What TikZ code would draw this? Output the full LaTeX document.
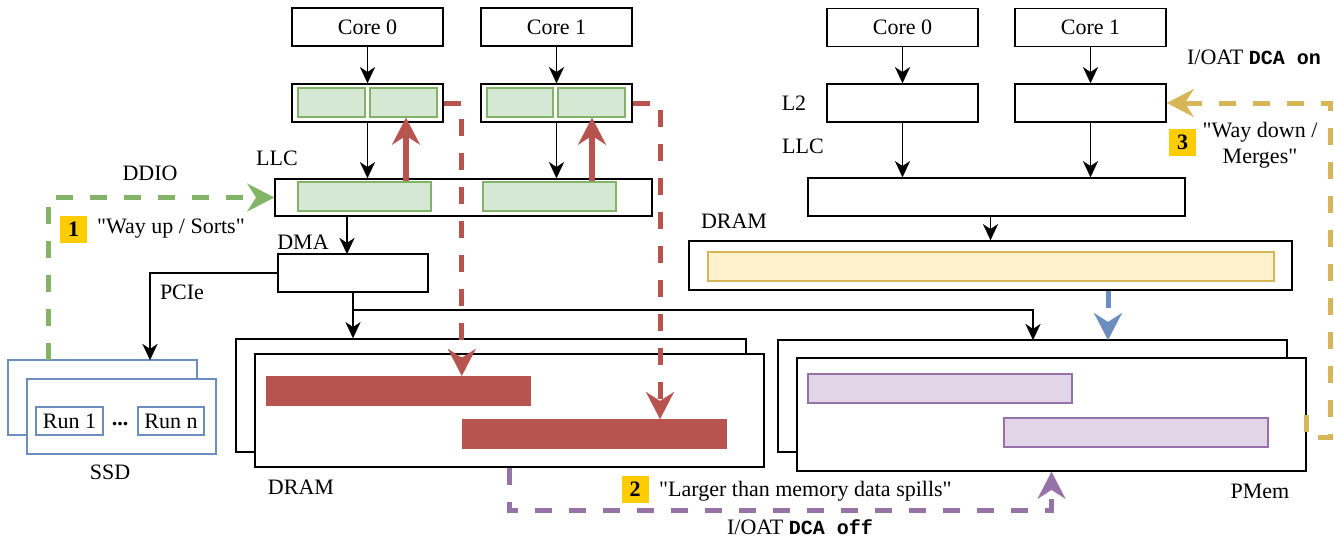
\documentclass[tikz,border=0pt]{standalone}
\usepackage{fontspec}
\setmainfont{Liberation Serif}[Ligatures=TeXOff]
\newfontfamily\codefont{Liberation Mono}
\usetikzlibrary{arrows.meta,calc}

\definecolor{grnFill}{HTML}{D5E8D4}
\definecolor{grnLine}{HTML}{82B366}
\definecolor{redLine}{HTML}{B85450}
\definecolor{ylwFill}{HTML}{FFF2CC}
\definecolor{ylwLine}{HTML}{D6B656}
\definecolor{prpFill}{HTML}{E1D5E7}
\definecolor{prpLine}{HTML}{9673A6}
\definecolor{bluLine}{HTML}{6C8EBF}
\definecolor{tagGold}{HTML}{FFCC00}

\newcommand{\mono}[1]{{\codefont\bfseries\fontsize{20}{24}\selectfont #1}}

\begin{document}
\begin{tikzpicture}[x=1pt,y=-1pt,
  font=\fontsize{22}{26}\selectfont,
  sz/.style 2 args={minimum width=#1pt,minimum height=#2pt},
  box/.style={draw,line width=1.7pt,fill=white,inner sep=0pt},
  gbox/.style={draw=grnLine,fill=grnFill,line width=1.5pt,inner sep=0pt},
  rbar/.style={fill=redLine,inner sep=0pt},
  ybar/.style={draw=ylwLine,fill=ylwFill,line width=1.5pt,inner sep=0pt},
  pbar/.style={draw=prpLine,fill=prpFill,line width=1.5pt,inner sep=0pt},
  sbox/.style={draw=bluLine,fill=white,line width=1.5pt,inner sep=0pt},
  tag/.style={fill=tagGold,inner sep=0pt,minimum width=27pt,minimum height=27pt,font=\fontsize{22}{26}\selectfont\bfseries},
  lbl/.style={inner sep=0pt},
  blk/.style={line width=1.8pt,-{Stealth[length=16pt,width=15pt,inset=5pt,line width=0.1pt]}},
  bigtip/.style={-{Stealth[length=27pt,width=28pt,inset=9pt,line width=0.1pt]}},
  dsh/.style={line width=5pt,dash pattern=on 17pt off 17pt,bigtip},
  reddash/.style={dsh,draw=redLine},
  gdash/.style={dsh,draw=grnLine},
  pdash/.style={dsh,draw=prpLine},
  ydash/.style={dsh,draw=ylwLine},
  bdash/.style={dsh,draw=bluLine},
  redthick/.style={line width=5.5pt,draw=redLine,bigtip}]

\useasboundingbox (0,0) rectangle (1334,539);

% ---------- left machine: cores, L2, LLC, DMA ----------
\node[box,sz={151}{38}] (c0L) at (367.5,27) {Core 0};
\node[box,sz={151}{38}] (c1L) at (556.5,27) {Core 1};
\node[box,sz={151}{38}] (l2a) at (367.5,103) {};
\node[box,sz={151}{38}] (l2b) at (556.5,103) {};
\node[gbox,sz={67}{29}] (ga1) at (331.5,102.5) {};
\node[gbox,sz={67}{29}] (ga2) at (403.5,102.5) {};
\node[gbox,sz={66}{29}] (gb1) at (520,102.5) {};
\node[gbox,sz={67}{29}] (gb2) at (591.5,102.5) {};
\node[box,sz={377}{37}] (llcL) at (463.5,197.5) {};
\node[gbox,sz={133}{29}] (gl1) at (364.5,196.5) {};
\node[gbox,sz={133}{29}] (gl2) at (549.5,196.5) {};
\node[box,sz={150}{38}] (dma) at (353,273) {};

% ---------- DRAM (left) ----------
\node[box,sz={510}{113}] (dramB) at (491,395.5) {};
\node[box,sz={509}{113}] (dramF) at (509.5,410.5) {};
\node[rbar,sz={265}{30}] (rb1) at (398.5,391) {};
\node[rbar,sz={265}{30}] (rb2) at (594.5,434) {};

% ---------- SSD ----------
\node[sbox,sz={189}{75}] (ssdB) at (102.5,397.5) {};
\node[sbox,sz={189}{75}] (ssdF) at (121.5,416.5) {};
\node[sbox,sz={67}{28}] (run1) at (69.5,421) {Run 1};
\node[sbox,sz={66}{28}] (runN) at (171,421) {Run n};
\node[lbl] (dots) at (120,424) {\textbf{...}};

% ---------- right machine ----------
\node[box,sz={151}{38}] (c0R) at (902.5,27.5) {Core 0};
\node[box,sz={151}{38}] (c1R) at (1090.5,27.5) {Core 1};
\node[box,sz={151}{38}] (l2c) at (902.5,103) {};
\node[box,sz={151}{38}] (l2d) at (1090.5,103) {};
\node[box,sz={377}{38}] (llcR) at (996.5,197) {};
\node[box,sz={603}{49}] (dramR) at (990.5,265.5) {};
\node[ybar,sz={566}{29}] (yb) at (991,266.5) {};

% ---------- PMem ----------
\node[box,sz={509}{112}] (pmB) at (1032.5,396) {};
\node[box,sz={509}{113}] (pmF) at (1051.5,414.5) {};
\node[pbar,sz={264}{29}] (pb1) at (940,388.5) {};
\node[pbar,sz={264}{29}] (pb2) at (1136,432.5) {};

% ---------- labels ----------
\node[lbl] (tLLCl) at (277,158) {LLC};
\node[lbl] (tDDIO) at (150,173) {DDIO};
\node[tag] (t1) at (73.5,229) {1};
\node[lbl,anchor=west] (tWayUp) at (97,229) {"Way up / Sorts"};
\node[lbl] (tDMA) at (303,242) {DMA};
\node[lbl] (tPCIe) at (182,292) {PCIe};
\node[lbl] (tSSD) at (110,472) {SSD};
\node[lbl] (tDRAMl) at (301,487) {DRAM};
\node[tag] (t2) at (635,489) {2};
\node[lbl,anchor=west] (tSpill) at (659,491) {"Larger than memory data spills"};
\node[lbl] (tOff) at (800,527) {I/OAT \mono{DCA off}};
\node[lbl] (tPMem) at (1260,491) {PMem};
\node[lbl] (tL2) at (794,103) {L2};
\node[lbl] (tLLCr) at (803,146) {LLC};
\node[lbl] (tDRAMr) at (734,221) {DRAM};
\node[lbl] (tOn) at (1254,57) {I/OAT \mono{DCA on}};
\node[tag] (t3) at (1182.5,142) {3};
\node[lbl,align=center] (tWayDown) at (1260,145) {"Way down /\\Merges"};

% ---------- connectors: left machine ----------
\draw[blk] (c0L) -- (l2a);
\draw[blk] (c1L) -- (l2b);
\draw[blk] (l2a.south) -- (l2a.south |- llcL.north);
\draw[blk] (l2b.south) -- (l2b.south |- llcL.north);
\draw[redthick] ($(ga2.south |- gl1.north)+(2.5,0)$) -- ($(ga2.south)+(2.5,0)$);
\draw[redthick] ($(gb2.south |- gl2.north)+(0.5,0)$) -- ($(gb2.south)+(0.5,0)$);

\coordinate (dmaIn) at (347,254);
\draw[blk] (llcL.south -| dmaIn) -- (dmaIn);
\coordinate (pmIn) at (1033,340);
\draw[blk] (dma.south) -- (dma.south |- dramB.north);
\draw[blk] (dma.south) |- ($(pmIn)+(0,-30)$) -- (pmIn);
\coordinate (ssdIn) at (150,360);
\draw[blk] (dma.west) -| (ssdIn);

% ---------- connectors: right machine ----------
\draw[blk] (c0R) -- (l2c);
\draw[blk] (c1R) -- (l2d);
\draw[blk] (l2c.south) -- (l2c.south |- llcR.north);
\draw[blk] (l2d.south) -- (l2d.south |- llcR.north);
\draw[blk] (dramR.north |- llcR.south) -- (dramR.north);

% ---------- data paths ----------
\draw[reddash] (l2a.east) -| (rb2.west |- rb1.north);
\coordinate (rIn2) at (660,419);
\draw[reddash] (l2b.east) -| (rIn2);

\coordinate (ssdOut) at (48,360);
\draw[gdash] (ssdOut) |- (llcL.west);

\coordinate (spillY) at (0,510);
\draw[pdash] (dramF.south) |- (spillY -| pmF.south) -- (pmF.south);

\coordinate (pmBlue) at (1108,340);
\draw[bdash] (dramR.south -| pmBlue) -- (pmBlue);

\draw[ydash] (pmF.east) -- ++(0,23) -- ++(24,0) |- (l2d.east);

\end{tikzpicture}
\end{document}
